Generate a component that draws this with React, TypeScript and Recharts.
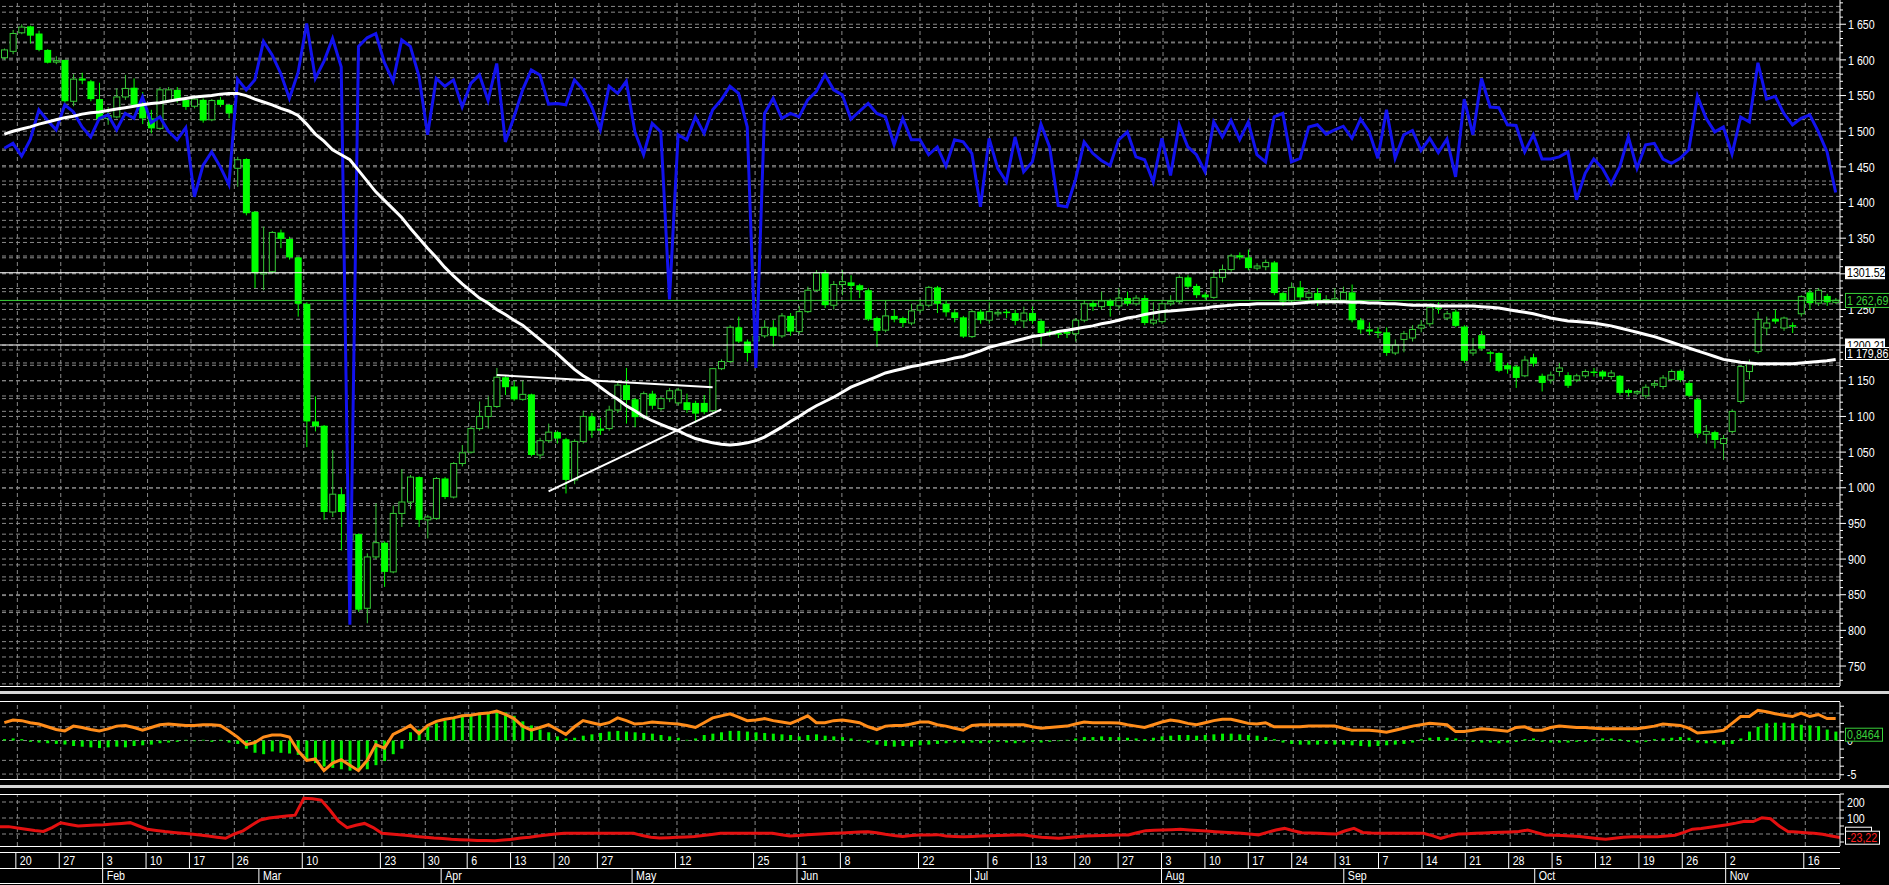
import React from "react";
import { ComposedChart, Bar, Line, XAxis, YAxis, ReferenceLine } from "recharts";

const FONT = '"Liberation Sans", Arial, sans-serif';
const W = 1889;

// candles, one per trading day (Jan 16 .. Nov 20)
const opens = [
  1603, 1612, 1638, 1647, 1637, 1614, 1597, 1600, 1542, 1574,
  1570, 1545, 1518, 1520, 1548, 1561, 1538, 1518, 1504, 1542,
  1558, 1544, 1535, 1544, 1516, 1544, 1537, 1448, 1461, 1387,
  1300, 1303, 1358, 1349, 1323, 1258, 1093, 1087, 966, 991,
  927, 935, 831, 903, 923, 882, 964, 980, 1015, 955,
  957, 1013, 987, 1034, 1050, 1083, 1100, 1114, 1155, 1142,
  1124, 1131, 1046, 1066, 1078, 1068, 1011, 1065, 1100, 1083,
  1083, 1109, 1144, 1124, 1099, 1132, 1111, 1125, 1119, 1120,
  1119, 1119, 1108, 1167, 1177, 1225, 1205, 1206, 1213, 1225,
  1213, 1241, 1219, 1247, 1277, 1302, 1256, 1285, 1288, 1284,
  1277, 1238, 1221, 1241, 1238, 1231, 1249, 1256, 1281, 1258,
  1246, 1239, 1212, 1247, 1235, 1245, 1247, 1245, 1234, 1245,
  1234, 1219, 1217, 1219, 1216, 1235, 1259, 1254, 1262, 1255,
  1266, 1258, 1266, 1231, 1233, 1258, 1261, 1295, 1283, 1271,
  1267, 1295, 1306, 1326, 1323, 1308, 1310, 1316, 1273, 1262,
  1281, 1267, 1273, 1261, 1261, 1263, 1274, 1235, 1222, 1219,
  1218, 1189, 1208, 1210, 1224, 1230, 1253, 1238, 1247, 1226,
  1189, 1214, 1190, 1189, 1172, 1170, 1157, 1183, 1157, 1151,
  1163, 1158, 1151, 1157, 1163, 1163, 1156, 1157, 1137, 1133,
  1129, 1144, 1142, 1152, 1164, 1147, 1124, 1075, 1078, 1062,
  1079, 1121, 1163, 1191, 1224, 1237, 1224, 1228, 1244, 1274,
  1259, 1269, 1260,
];
const highs = [
  1616, 1642, 1650, 1648, 1641, 1615, 1605, 1600, 1580, 1582,
  1572, 1568, 1534, 1560, 1579, 1574, 1555, 1530, 1562, 1562,
  1562, 1548, 1548, 1546, 1545, 1548, 1538, 1464, 1462, 1388,
  1366, 1360, 1362, 1352, 1324, 1260, 1128, 1088, 1053, 1000,
  945, 936, 908, 978, 925, 975, 1026, 1018, 1016, 962,
  1015, 1015, 1036, 1060, 1086, 1121, 1128, 1168, 1158, 1150,
  1150, 1132, 1070, 1090, 1080, 1070, 1068, 1108, 1105, 1098,
  1115, 1148, 1168, 1126, 1135, 1136, 1128, 1140, 1140, 1132,
  1122, 1130, 1168, 1180, 1228, 1240, 1208, 1215, 1235, 1235,
  1245, 1245, 1255, 1282, 1305, 1305, 1290, 1305, 1298, 1286,
  1280, 1240, 1262, 1250, 1240, 1258, 1265, 1283, 1283, 1262,
  1250, 1241, 1250, 1250, 1260, 1250, 1250, 1250, 1254, 1254,
  1236, 1222, 1220, 1222, 1238, 1262, 1262, 1275, 1265, 1280,
  1275, 1270, 1270, 1260, 1262, 1270, 1298, 1298, 1286, 1274,
  1305, 1313, 1328, 1330, 1334, 1315, 1320, 1318, 1275, 1288,
  1290, 1278, 1280, 1270, 1280, 1282, 1285, 1238, 1232, 1225,
  1225, 1208, 1220, 1228, 1235, 1258, 1260, 1248, 1250, 1228,
  1210, 1220, 1192, 1190, 1175, 1172, 1185, 1188, 1160, 1163,
  1175, 1162, 1160, 1166, 1168, 1165, 1165, 1158, 1139, 1137,
  1145, 1150, 1158, 1166, 1166, 1150, 1126, 1088, 1080, 1074,
  1110, 1172, 1180, 1247, 1240, 1250, 1240, 1232, 1270, 1278,
  1280, 1272, 1266,
];
const lows = [
  1600, 1608, 1636, 1623, 1612, 1595, 1594, 1540, 1535, 1566,
  1542, 1515, 1509, 1518, 1544, 1534, 1510, 1497, 1502, 1540,
  1540, 1530, 1532, 1512, 1514, 1534, 1518, 1422, 1382, 1280,
  1277, 1300, 1336, 1320, 1240, 1057, 1079, 955, 959, 912,
  908, 826, 810, 900, 861, 880, 945, 970, 945, 929,
  955, 984, 985, 1030, 1048, 1080, 1083, 1112, 1130, 1122,
  1122, 1044, 1040, 1063, 1062, 992, 1005, 1062, 1070, 1074,
  1080, 1105, 1090, 1085, 1096, 1110, 1108, 1120, 1115, 1105,
  1091, 1103, 1105, 1165, 1175, 1203, 1177, 1195, 1210, 1198,
  1210, 1213, 1215, 1245, 1275, 1252, 1250, 1270, 1262, 1266,
  1234, 1198, 1218, 1232, 1225, 1228, 1245, 1253, 1245, 1240,
  1232, 1210, 1210, 1230, 1230, 1240, 1238, 1228, 1224, 1230,
  1198, 1212, 1210, 1210, 1205, 1232, 1248, 1250, 1240, 1250,
  1255, 1255, 1228, 1228, 1230, 1255, 1258, 1280, 1266, 1264,
  1265, 1288, 1303, 1320, 1305, 1305, 1305, 1270, 1255, 1258,
  1263, 1262, 1255, 1257, 1258, 1260, 1232, 1216, 1214, 1210,
  1185, 1186, 1190, 1205, 1218, 1226, 1244, 1235, 1225, 1175,
  1185, 1192, 1176, 1162, 1160, 1140, 1155, 1170, 1135, 1146,
  1156, 1140, 1148, 1154, 1156, 1152, 1152, 1130, 1128, 1130,
  1125, 1140, 1138, 1150, 1148, 1127, 1070, 1062, 1055, 1039,
  1076, 1118, 1152, 1188, 1214, 1230, 1220, 1217, 1240, 1250,
  1255, 1255, 1258,
];
const closes = [
  1614, 1637, 1646, 1634, 1614, 1596, 1599, 1542, 1573, 1571,
  1545, 1517, 1522, 1548, 1560, 1537, 1518, 1504, 1558, 1558,
  1545, 1534, 1545, 1515, 1543, 1537, 1525, 1460, 1385, 1301,
  1302, 1358, 1349, 1323, 1258, 1093, 1086, 966, 991, 966,
  934, 829, 903, 923, 882, 964, 980, 1015, 955, 959,
  1013, 987, 1034, 1049, 1083, 1100, 1114, 1155, 1141, 1124,
  1131, 1046, 1066, 1078, 1069, 1011, 1065, 1100, 1080, 1080,
  1109, 1144, 1123, 1099, 1132, 1115, 1125, 1136, 1137, 1109,
  1104, 1106, 1167, 1177, 1225, 1205, 1189, 1212, 1225, 1213,
  1241, 1219, 1247, 1277, 1301, 1256, 1285, 1289, 1283, 1277,
  1236, 1220, 1241, 1236, 1231, 1248, 1256, 1281, 1258, 1246,
  1238, 1212, 1247, 1235, 1247, 1246, 1245, 1234, 1245, 1234,
  1217, 1218, 1216, 1216, 1235, 1258, 1254, 1262, 1255, 1266,
  1258, 1266, 1231, 1235, 1258, 1261, 1295, 1282, 1270, 1267,
  1295, 1306, 1325, 1323, 1308, 1311, 1316, 1273, 1261, 1281,
  1267, 1273, 1261, 1264, 1265, 1274, 1235, 1222, 1219, 1217,
  1189, 1200, 1216, 1222, 1228, 1253, 1252, 1244, 1227, 1178,
  1193, 1195, 1188, 1164, 1166, 1154, 1179, 1174, 1147, 1158,
  1168, 1143, 1157, 1163, 1162, 1156, 1161, 1133, 1133, 1135,
  1141, 1146, 1154, 1163, 1151, 1129, 1076, 1079, 1067, 1069,
  1107, 1170, 1175, 1236, 1231, 1233, 1238, 1227, 1268, 1259,
  1277, 1260, 1263,
];

// blue overlay indicator, drawn on the price scale
const blueLine = [
  1476, 1483, 1465, 1488, 1530, 1515, 1502, 1537, 1527, 1506,
  1492, 1518, 1523, 1502, 1525, 1518, 1548, 1512, 1520, 1500,
  1488, 1505, 1408, 1452, 1471, 1450, 1425, 1573, 1558, 1572,
  1626, 1607, 1581, 1546, 1582, 1651, 1574, 1598, 1630, 1590,
  808, 1619, 1631, 1637, 1596, 1570, 1628, 1619, 1577, 1495,
  1574, 1563, 1572, 1534, 1567, 1579, 1543, 1595, 1485, 1520,
  1558, 1586, 1579, 1538, 1539, 1537, 1572, 1558, 1534, 1502,
  1563, 1553, 1570, 1499, 1467, 1511, 1499, 1264, 1495, 1488,
  1520, 1497, 1530, 1544, 1563, 1553, 1506, 1168, 1525, 1546,
  1518, 1525, 1520, 1544, 1556, 1579, 1558, 1551, 1517, 1528,
  1539, 1525, 1520, 1481, 1518, 1488, 1488, 1467, 1478, 1451,
  1488, 1485, 1469, 1394, 1490, 1448, 1429, 1492, 1443, 1457,
  1510, 1478, 1396, 1394, 1432, 1485, 1469, 1459, 1452, 1488,
  1499, 1464, 1460, 1429, 1490, 1438, 1509, 1478, 1467, 1443,
  1513, 1492, 1515, 1488, 1513, 1467, 1457, 1520, 1525, 1457,
  1462, 1506, 1509, 1496, 1502, 1507, 1490, 1517, 1499, 1462,
  1530, 1462, 1495, 1501, 1473, 1490, 1470, 1489, 1436, 1545,
  1495, 1574, 1534, 1533, 1509, 1508, 1471, 1495, 1461, 1461,
  1464, 1471, 1404, 1441, 1461, 1448, 1426, 1450, 1492, 1448,
  1481, 1483, 1461, 1455, 1462, 1474, 1549, 1518, 1499, 1506,
  1468, 1520, 1513, 1596, 1545, 1549, 1525, 1509, 1518, 1523,
  1499, 1471, 1414,
];

// white moving average
const maLine = [
  1496, 1500, 1503, 1506, 1510, 1513, 1516, 1519, 1521, 1524,
  1526, 1527, 1529, 1531, 1533, 1535, 1537, 1539, 1540, 1542,
  1544, 1546, 1548, 1549, 1550, 1552, 1553, 1553, 1550, 1545,
  1541, 1537, 1532, 1528, 1522, 1510, 1496, 1486, 1474, 1467,
  1460, 1445, 1430, 1415, 1403, 1391, 1379, 1364, 1350, 1336,
  1323, 1309, 1297, 1286, 1276, 1266, 1259, 1250, 1243, 1235,
  1228, 1218, 1208, 1198, 1188, 1177, 1166, 1157, 1150, 1141,
  1132, 1124, 1115, 1108, 1100, 1094, 1089, 1084, 1080, 1074,
  1069, 1066, 1063, 1061, 1060, 1061, 1063, 1066, 1071, 1078,
  1085, 1093, 1100, 1108, 1115, 1121, 1127, 1134, 1141, 1146,
  1151, 1156, 1161, 1164, 1167, 1170, 1172, 1175, 1177, 1179,
  1182, 1184, 1188, 1192, 1197, 1200, 1203, 1206, 1209, 1212,
  1214, 1216, 1219, 1221, 1223, 1225, 1227, 1230, 1232, 1235,
  1238, 1240, 1243, 1245, 1247, 1248, 1249, 1250, 1251, 1252,
  1254, 1255, 1256, 1257, 1257, 1258, 1258, 1258, 1258, 1258,
  1259, 1260, 1261, 1261, 1261, 1261, 1260, 1260, 1259, 1259,
  1258, 1258, 1257, 1256, 1256, 1256, 1255, 1255, 1255, 1255,
  1255, 1254, 1253, 1252, 1250, 1248, 1246, 1244, 1241, 1238,
  1236, 1234, 1233, 1232, 1231, 1229, 1227, 1224, 1221, 1218,
  1215, 1212, 1208, 1204, 1200, 1196, 1192, 1188, 1184, 1180,
  1178, 1176, 1175, 1174, 1174, 1174, 1174, 1174, 1175, 1176,
  1177, 1178, 1180,
];

// oscillator panel: green histogram and orange line
const oscHist = [
  0.2, 0.3, 0.2, -0.2, -0.3, -0.4, -0.5, -0.6, -0.8, -0.9,
  -1.0, -1.1, -1.0, -0.9, -1.0, -0.8, -0.7, -0.6, -0.4, -0.3,
  -0.2, 0.1, -0.1, 0.1, -0.2, 0.1, -0.3, -0.5, -1.2, -1.8,
  -2.0, -1.6, -1.8, -1.9, -2.1, -2.9, -3.3, -3.8, -4.0, -4.2,
  -4.4, -4.4, -4.2, -3.6, -3.0, -2.0, -1.2, 1.2, 1.6, 2.0,
  2.5, 2.9, 3.2, 3.5, 3.7, 3.9, 4.0, 4.3, 4.1, 3.6,
  2.8, 2.2, 1.6, 1.2, 0.6, 0.3, 0.4, 0.7, 0.9, 1.1,
  1.3, 1.4, 1.3, 1.2, 1.1, 1.0, 0.8, 0.6, 0.4, 0.1,
  0.3, 0.8, 1.0, 1.2, 1.4, 1.4, 1.3, 1.2, 1.1, 1.0,
  0.9, 0.8, 0.6, 0.8, 0.9, 0.7, 0.6, 0.5, 0.3, 0.1,
  -0.3, -0.6, -0.8, -0.9, -0.8, -0.9, -0.7, -0.6, -0.5, -0.4,
  -0.3, -0.4, -0.3, -0.4, -0.3, -0.2, -0.3, -0.4, -0.3, -0.2,
  -0.3, -0.2, -0.1, 0.1, 0.3, 0.5, 0.5, 0.6, 0.5, 0.5,
  0.4, 0.3, 0.2, 0.4, 0.6, 0.7, 0.8, 0.8, 0.7, 0.8,
  0.9, 1.0, 1.0, 0.9, 0.8, 0.7, 0.5, 0.2, -0.3, -0.5,
  -0.6, -0.6, -0.6, -0.5, -0.6, -0.6, -0.7, -0.8, -0.9, -0.8,
  -0.7, -0.6, -0.5, -0.3, 0.2, 0.4, 0.5, 0.4, 0.3, 0.1,
  -0.2, -0.3, -0.3, -0.4, -0.3, -0.2, 0.2, 0.3, -0.2, -0.3,
  -0.3, -0.3, -0.2, -0.2, 0.2, 0.3, 0.3, 0.2, -0.2, -0.3,
  -0.2, 0.2, 0.3, 0.4, 0.5, 0.4, -0.3, -0.4, -0.4, -0.6,
  -0.5, 0.3, 1.3, 2.0, 2.5, 2.6, 2.6, 2.5, 2.3, 2.2,
  2.1, 1.6, 1.3,
];
const oscLine = [
  2.6, 3.0, 2.9, 2.6, 2.4, 2.0, 1.6, 1.4, 2.1, 1.9,
  1.6, 1.4, 1.7, 2.1, 2.2, 1.9, 1.5, 1.9, 2.3, 2.4,
  2.3, 2.2, 2.2, 2.3, 2.3, 2.2, 1.4, 0.5, -0.6, -0.3,
  0.5, 0.8, 0.8, 0.5, -1.5, -2.9, -2.7, -4.4, -3.3, -2.8,
  -3.6, -4.4, -2.9, -0.6, -1.1, 0.9, 1.5, 2.2, 1.0, 2.2,
  2.8, 3.1, 3.3, 3.6, 3.7, 3.9, 4.0, 4.3, 3.8, 3.2,
  2.1, 1.5, 1.9, 2.3, 1.6, 0.9, 2.0, 2.9, 2.6, 2.3,
  2.6, 3.3, 2.9, 2.4, 2.5, 2.7, 2.6, 2.5, 2.4, 2.2,
  1.9, 2.6, 3.3, 3.6, 3.9, 3.4, 2.9, 3.0, 3.2, 2.9,
  2.7, 2.5, 3.0, 3.6, 2.6, 2.6, 2.9, 3.0, 2.8, 2.6,
  2.0, 1.6, 2.1, 2.2, 2.2, 2.4, 2.7, 2.7, 2.3, 2.1,
  1.8, 1.5, 2.2, 2.3, 2.3, 2.3, 2.3, 2.3, 2.3, 2.0,
  1.8, 1.9, 2.0, 2.1, 2.4, 2.7, 2.6, 2.6, 2.6, 2.55,
  2.3, 2.1, 1.9, 2.3, 2.7, 3.0, 2.8, 2.5, 2.3, 2.6,
  2.9, 3.1, 3.1, 2.8, 2.5, 2.4, 2.6, 2.0, 2.0, 2.0,
  2.0, 2.1, 2.1, 2.1, 2.1, 1.8, 1.5, 1.5, 1.5, 1.4,
  1.2, 1.5, 1.8, 2.1, 2.3, 2.5, 2.4, 2.3, 1.3, 1.3,
  1.5, 1.7, 1.6, 1.5, 1.35, 1.9, 2.0, 1.5, 1.5, 1.9,
  2.1, 2.0, 1.9, 1.9, 1.8, 1.7, 1.7, 1.7, 1.7, 1.7,
  1.9, 2.1, 2.4, 2.3, 2.2, 1.8, 1.1, 1.2, 1.3, 1.5,
  2.5, 3.5, 3.5, 4.4, 4.2, 3.9, 3.7, 3.5, 4.0, 3.5,
  3.8, 3.2, 3.2,
];

// bottom panel, red line
const redLine = [
  46, 46, 38, 30, 22, 16, 40, 70, 60, 50,
  53, 56, 58, 62, 66, 71, 50, 29, 22, 15,
  10, 5, 0, -6, -13, -20, -27, 0, 20, 55,
  88, 100, 106, 112, 118, 223, 220, 212, 150, 80,
  40, 55, 66, 40, 5, 0, -5, -10, -16, -20,
  -25, -28, -33, -36, -38, -40, -41, -42, -38, -33,
  -25, -20, -12, -6, 0, 4, 4, 4, 4, 4,
  4, 4, 4, 4, -10, -20, -25, -23, -20, -18,
  -16, -10, -3, 4, 4, 4, 4, 4, 4, 4,
  -5, -12, -9, -5, -2, 2, 4, 7, 10, 12,
  14, 8, -2, -10, -16, -10, -6, -6, -4, -12,
  -15, -17, -15, -13, -11, -9, -8, -7, -6, -14,
  -20, -24, -27, -22, -17, -12, -11, -10, -8, -7,
  -6, 8, 21, 23, 25, 27, 29, 25, 22, 18,
  14, 11, 8, 4, 0, -6, 10, 25, 35, 20,
  8, 6, 4, 2, 0, 20, 35, 10, 6, 5,
  4, 4, 4, 4, 4, -10, -27, -12, 0, 2,
  4, 7, 9, 11, 13, 15, 25, 10, -6, -8,
  -10, -13, -16, -22, -28, -33, -27, -20, -17, -17,
  -17, -17, -12, -8, 10, 30, 35, 42, 50, 58,
  68, 80, 78, 102, 95, 50, 15, 12, 8, 4,
  -2, -12, -22,
];

// date axis
const dayTicks = [2, 7, 12, 17, 22, 27, 35, 44, 49, 54, 59, 64, 69, 78, 87, 92, 97, 106, 114, 119, 124, 129, 134, 139, 144, 149, 154, 159, 164, 169, 174, 179, 184, 189, 194, 199, 208];
const dayLabels = ["20", "27", "3", "10", "17", "26", "10", "23", "30", "6", "13", "20", "27", "12", "25", "1", "8", "22", "6", "13", "20", "27", "3", "10", "17", "24", "31", "7", "14", "21", "28", "5", "12", "19", "26", "2", "16"];
const monthTicks = [12, 30, 51, 73, 92, 112, 134, 155, 177, 199];
const monthLabels = ["Feb", "Mar", "Apr", "May", "Jun", "Jul", "Aug", "Sep", "Oct", "Nov"];

// marked levels and last values
const levelLines = [
  { value: 1301.52, text: "1301.52" },
  { value: 1200.21, text: "1200.21" },
];
const lastPrice = { value: 1262.69, text: "1 262,69" };
const lastMa = { value: 1179.86, text: "1 179,86" };
const lastOsc = { value: 0.8464, text: "0,8464" };
const lastRed = { value: -23.22, text: "-23,22" };
const trendLines = [
  [{ x: 57, y: 1158 }, { x: 82, y: 1141 }],
  [{ x: 63, y: 995 }, { x: 83, y: 1110 }],
];
// axis labels that sit fully under a level box
const coveredPriceLabels = [1300, 1200];

const data = opens.map((o, i) => ({
  i,
  o,
  h: highs[i],
  l: lows[i],
  c: closes[i],
  range: [lows[i], highs[i]],
  blue: blueLine[i],
  ma: maLine[i],
  hist: oscHist[i],
  osc: oscLine[i],
  red: redLine[i],
}));

const PRICE_DOMAIN: [number, number] = [722, 1684];
const OSC_DOMAIN: [number, number] = [-5.62, 5.62];
const RED_DOMAIN: [number, number] = [-75, 250];

const priceTicks: number[] = [];
for (let v = 730; v <= 1680; v += 10) priceTicks.push(v);
const priceGrid: number[] = [];
for (let v = 725; v <= 1675; v += 25) priceGrid.push(v);
const blueGrid: number[] = [];
for (let k = -18; k <= 25; k++) blueGrid.push(1128.7 + k * 21.53);

const GRID = "#8a8a8a";
const DASH = "4 3";
const margin = { top: 0, right: 0, bottom: 0, left: 0 };

// narrow label text (Arial Narrow look, built from Liberation Sans)
function NText({ x, y, fill = "#fff", children }: { x: number; y: number; fill?: string; children: React.ReactNode }) {
  return (
    <text transform={`translate(${x},${y}) scale(0.82,1)`} dy="0.36em" fill={fill} fontSize={13} fontFamily={FONT}>
      {children}
    </text>
  );
}

function priceLabel(v: number) {
  const s = String(v);
  return v >= 1000 ? s.slice(0, s.length - 3) + " " + s.slice(-3) : s;
}

function PriceTick(props: any) {
  const { x, y, payload } = props;
  const v = payload.value;
  const ax = x - 8;
  const major = v % 50 === 0;
  const shown = major && !coveredPriceLabels.includes(v);
  return (
    <g>
      <line x1={ax} x2={ax + (major ? 6 : 3)} y1={y} y2={y} stroke="#fff" />
      {shown && <NText x={ax + 8} y={y}>{priceLabel(v)}</NText>}
    </g>
  );
}

function makeSmallTick(labels: Record<string, string>) {
  return function SmallTick(props: any) {
    const { x, y, payload } = props;
    const ax = x - 8;
    const t = labels[String(payload.value)];
    return (
      <g>
        <line x1={ax} x2={ax + 4} y1={y} y2={y} stroke="#fff" />
        {t && <NText x={ax + 7} y={y}>{t}</NText>}
      </g>
    );
  };
}
const OscTick = makeSmallTick({ "0": "0", "-5": "-5" });
const RedTick = makeSmallTick({ "200": "200", "100": "100" });

function ValueBox(props: any) {
  const { viewBox, text, fill, stroke, color, w, h, dy = 0, ghost } = props;
  if (!viewBox) return null;
  const bx = viewBox.x + viewBox.width + 5.5;
  const cy = viewBox.y + dy;
  return (
    <g>
      {ghost && <rect x={bx} y={cy - h / 2 - 4} width={w - 8} height={h} fill="#000" stroke="#fff" />}
      <rect x={bx} y={cy - h / 2} width={w} height={h} fill={fill} stroke={stroke} />
      <NText x={bx + 1.5} y={cy} fill={color}>{text}</NText>
    </g>
  );
}

function Candle(props: any) {
  const { x, y, width, height, payload } = props;
  if (payload == null || height == null || isNaN(y)) return null;
  const top = Math.min(y, y + height);
  const bot = Math.max(y, y + height);
  const span = payload.h - payload.l || 1;
  const py = (v: number) => top + ((payload.h - v) / span) * (bot - top);
  const cx = x + width / 2;
  const up = payload.c >= payload.o;
  const bTop = py(Math.max(payload.o, payload.c));
  const bBot = py(Math.min(payload.o, payload.c));
  const bh = Math.max(1.5, bBot - bTop);
  return (
    <g>
      <line x1={cx} x2={cx} y1={top} y2={bot} stroke={up ? "#36c936" : "#00ff00"} strokeWidth={1} />
      {up ? (
        <rect x={x + 0.5} y={bTop} width={width - 1} height={bh} fill="#000" stroke="#36c936" strokeWidth={1} />
      ) : (
        <rect x={x} y={bTop} width={width} height={bh} fill="#00ff00" />
      )}
    </g>
  );
}

function DateTick(props: any) {
  const { x, y, payload } = props;
  const di = dayTicks.indexOf(payload.value);
  const mi = monthTicks.indexOf(payload.value);
  const top = y - 2;
  const lx = x - 1.5;
  return (
    <g>
      {di >= 0 && (
        <g>
          <line x1={lx} x2={lx} y1={top} y2={top + 16} stroke="#fff" />
          <NText x={lx + 4} y={top + 8}>{dayLabels[di]}</NText>
        </g>
      )}
      {mi >= 0 && (
        <g>
          <line x1={lx} x2={lx} y1={top + 16} y2={top + 31} stroke="#fff" />
          <NText x={lx + 4} y={top + 23.5}>{monthLabels[mi]}</NText>
        </g>
      )}
    </g>
  );
}

function verticalGrid() {
  return dayTicks.map((t) => (
    <ReferenceLine key={"v" + t} x={t} stroke={GRID} strokeDasharray={DASH} />
  ));
}

function GridLayer({ height, domain, values, axisHeight = 0 }: { height: number; domain: [number, number]; values: number[]; axisHeight?: number }) {
  return (
    <ComposedChart width={W} height={height} data={data} margin={margin}>
      <XAxis dataKey="i" type="category" hide={axisHeight === 0} height={axisHeight} tick={false} axisLine={false} tickLine={false} />
      <YAxis orientation="right" width={49} domain={domain} allowDataOverflow tick={false} axisLine={false} tickLine={false} />
      {values.map((v, k) => (
        <ReferenceLine key={"h" + k} y={v} stroke={GRID} strokeDasharray={DASH} />
      ))}
      {verticalGrid()}
    </ComposedChart>
  );
}

// top layer: value boxes that cover the axis labels beneath them
function BoxLayer({ height, domain, axisHeight = 0, children }: { height: number; domain: [number, number]; axisHeight?: number; children: React.ReactNode }) {
  return (
    <ComposedChart width={W} height={height} data={data} margin={margin}>
      <XAxis dataKey="i" type="category" hide={axisHeight === 0} height={axisHeight} tick={false} axisLine={false} tickLine={false} />
      <YAxis orientation="right" width={49} domain={domain} allowDataOverflow tick={false} axisLine={false} tickLine={false} />
      {children}
    </ComposedChart>
  );
}

function Rule({ top, height = 1, width = 1840, color = "#fff" }: { top: number; height?: number; width?: number; color?: string }) {
  return <div style={{ position: "absolute", left: 0, top, width, height, background: color }} />;
}

const layer: React.CSSProperties = { position: "absolute", left: 0 };

export default function App() {
  return (
    <div style={{ position: "relative", width: W, height: 885, background: "#000", overflow: "hidden", fontFamily: FONT }}>
      <style>{"body{margin:0;background:#000}.recharts-surface{overflow:visible}"}</style>

      {/* price panel */}
      <div style={{ ...layer, top: 0 }}>
        <GridLayer height={686} domain={PRICE_DOMAIN} values={[...priceGrid, ...blueGrid]} />
      </div>
      <div style={{ ...layer, top: 0 }}>
        <ComposedChart width={W} height={686} data={data} margin={margin}>
          <XAxis dataKey="i" type="category" hide />
          <YAxis
            orientation="right"
            width={49}
            domain={PRICE_DOMAIN}
            allowDataOverflow
            ticks={priceTicks}
            interval={0}
            tick={<PriceTick />}
            tickLine={false}
            tickSize={6}
            tickMargin={2}
            axisLine={{ stroke: "#fff" }}
          />
          {levelLines.map((l) => (
            <ReferenceLine key={l.text} y={l.value} stroke="#fff" strokeWidth={1} />
          ))}
          <ReferenceLine y={lastPrice.value} stroke="#3ad13a" strokeWidth={1} />
          <Bar dataKey="range" barSize={7} isAnimationActive={false} shape={(p: any) => <Candle {...p} />} />
          <Line dataKey="blue" type="linear" stroke="#1212ee" strokeWidth={3} dot={false} activeDot={false} isAnimationActive={false} />
          <Line dataKey="ma" type="linear" stroke="#fff" strokeWidth={3} dot={false} activeDot={false} isAnimationActive={false} />
          {trendLines.map((seg, k) => (
            <ReferenceLine key={"t" + k} segment={seg} stroke="#fff" strokeWidth={2} />
          ))}
        </ComposedChart>
      </div>
      <div style={{ ...layer, top: 0 }}>
        <BoxLayer height={686} domain={PRICE_DOMAIN}>
          {levelLines.map((l) => (
            <ReferenceLine
              key={"b" + l.text}
              y={l.value}
              strokeOpacity={0}
              label={<ValueBox text={l.text} fill="#fff" stroke="#fff" color="#000" w={39} h={12} />}
            />
          ))}
          <ReferenceLine
            y={lastMa.value}
            strokeOpacity={0}
            label={<ValueBox text={lastMa.text} fill="#000" stroke="#fff" color="#fff" w={44} h={12} dy={-6} />}
          />
          <ReferenceLine
            y={lastPrice.value}
            strokeOpacity={0}
            label={<ValueBox text={lastPrice.text} fill="#000" stroke="#3ad13a" color="#3ad13a" w={44} h={14} />}
          />
        </BoxLayer>
      </div>

      {/* oscillator panel */}
      <div style={{ ...layer, top: 702 }}>
        <GridLayer height={77} domain={OSC_DOMAIN} values={[4, 2, 0, -2.9, -4.9]} />
      </div>
      <div style={{ ...layer, top: 702 }}>
        <ComposedChart width={W} height={77} data={data} margin={margin}>
          <XAxis dataKey="i" type="category" hide />
          <YAxis
            orientation="right"
            width={49}
            domain={OSC_DOMAIN}
            allowDataOverflow
            ticks={[-5, -3.75, -2.5, -1.25, 0, 1.25, 2.5, 3.75, 5]}
            interval={0}
            tick={<OscTick />}
            tickLine={false}
            tickSize={6}
            tickMargin={2}
            axisLine={{ stroke: "#fff" }}
          />
          <Bar dataKey="hist" barSize={3} fill="#00f000" isAnimationActive={false} />
          <Line dataKey="osc" type="linear" stroke="#ff8c1a" strokeWidth={3} dot={false} activeDot={false} isAnimationActive={false} />
        </ComposedChart>
      </div>
      <div style={{ ...layer, top: 702 }}>
        <BoxLayer height={77} domain={OSC_DOMAIN}>
          <ReferenceLine
            y={lastOsc.value}
            strokeOpacity={0}
            label={<ValueBox text={lastOsc.text} fill="#000" stroke="#3ad13a" color="#3ad13a" w={37} h={13} />}
          />
        </BoxLayer>
      </div>

      {/* bottom panel with date axis */}
      <div style={{ ...layer, top: 794 }}>
        <GridLayer height={91} domain={RED_DOMAIN} values={[200, 100, 0]} axisHeight={39} />
      </div>
      <div style={{ ...layer, top: 794 }}>
        <ComposedChart width={W} height={91} data={data} margin={margin}>
          <XAxis
            dataKey="i"
            type="category"
            height={39}
            ticks={[...dayTicks, ...monthTicks.filter((m) => !dayTicks.includes(m))].sort((a, b) => a - b)}
            interval={0}
            tick={<DateTick />}
            tickSize={6}
            tickMargin={2}
            axisLine={false}
            tickLine={false}
          />
          <YAxis
            orientation="right"
            width={49}
            domain={RED_DOMAIN}
            allowDataOverflow
            ticks={[-50, 0, 50, 100, 150, 200, 250]}
            interval={0}
            tick={<RedTick />}
            tickLine={false}
            tickSize={6}
            tickMargin={2}
            axisLine={{ stroke: "#fff" }}
          />
          <Line dataKey="red" type="linear" stroke="#e41010" strokeWidth={3} dot={false} activeDot={false} isAnimationActive={false} />
        </ComposedChart>
      </div>
      <div style={{ ...layer, top: 794 }}>
        <BoxLayer height={91} domain={RED_DOMAIN} axisHeight={39}>
          <ReferenceLine
            y={lastRed.value}
            strokeOpacity={0}
            label={<ValueBox text={lastRed.text} fill="#000" stroke="#fff" color="#ff2020" w={34} h={13} ghost />}
          />
        </BoxLayer>
      </div>

      {/* panel frames */}
      <Rule top={686} />
      <Rule top={691} height={3} width={W} color="#d6d6d6" />
      <Rule top={701} />
      <Rule top={779} />
      <Rule top={785} height={3} width={W} color="#d6d6d6" />
      <Rule top={794} />
      <Rule top={846} />
      <Rule top={852} />
      <Rule top={868} />
      <Rule top={883} />
    </div>
  );
}
